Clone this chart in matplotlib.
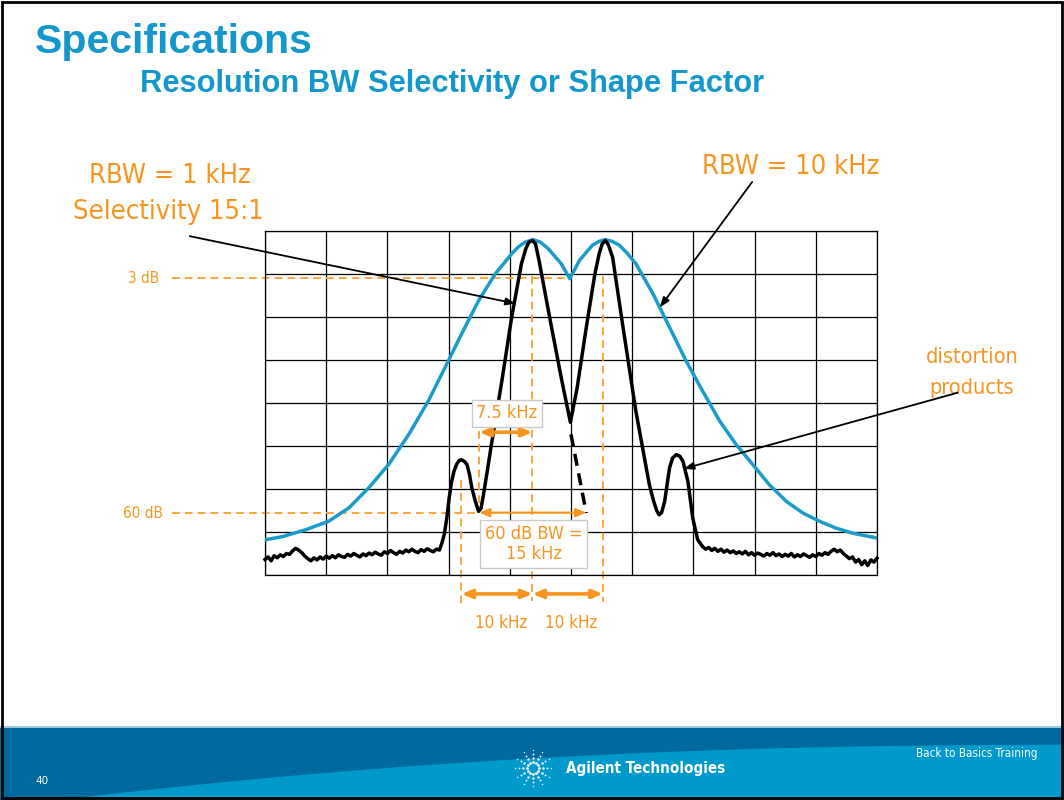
import numpy as np
import matplotlib
matplotlib.use('Agg')
import matplotlib.pyplot as plt
from matplotlib.patches import Rectangle, Polygon

# grid units: x 0..10 divisions, y 0..8 divisions (0 = bottom of screen)
# RBW = 10 kHz trace
blue_x = [0.00, 0.28, 0.66, 1.04, 1.37, 1.69, 2.02, 2.35, 2.67, 2.94, 3.21, 3.49, 3.76, 4.03,
          4.14, 4.25, 4.38, 4.50, 4.62, 4.84, 4.98, 5.14, 5.35, 5.46, 5.56, 5.67, 5.79, 5.92,
          6.06, 6.34, 6.61, 6.88, 7.15, 7.43, 7.70, 7.97, 8.24, 8.52, 8.79, 9.06, 9.33, 9.61,
          10.0]
blue_y = [0.82, 0.89, 1.05, 1.25, 1.56, 2.02, 2.57, 3.27, 4.05, 4.82, 5.60, 6.38, 7.00, 7.47,
          7.63, 7.74, 7.80, 7.74, 7.60, 7.24, 6.89, 7.32, 7.67, 7.76, 7.80, 7.76, 7.67, 7.48,
          7.24, 6.54, 5.76, 4.98, 4.28, 3.58, 3.03, 2.57, 2.10, 1.71, 1.44, 1.25, 1.09, 0.97,
          0.86]

# RBW = 1 kHz trace: noise floor left/right and the signal part in between
noise_left = [0.36, 0.42, 0.33, 0.45, 0.40, 0.47, 0.43, 0.50, 0.48, 0.56, 0.62, 0.58, 0.52, 0.44,
              0.38, 0.33, 0.40, 0.35, 0.42, 0.37, 0.44, 0.39, 0.45, 0.40, 0.47, 0.43, 0.41, 0.48,
              0.44, 0.50, 0.46, 0.42, 0.49, 0.45, 0.51, 0.47, 0.53, 0.49, 0.46, 0.54, 0.50, 0.57,
              0.52, 0.48, 0.55, 0.51, 0.58, 0.54, 0.60, 0.55, 0.52, 0.59, 0.55, 0.61, 0.57, 0.54,
              0.60, 0.58]
noise_right = [0.66, 0.60, 0.64, 0.57, 0.62, 0.55, 0.60, 0.53, 0.58, 0.52, 0.56, 0.50, 0.54, 0.49,
               0.55, 0.47, 0.52, 0.46, 0.51, 0.48, 0.44, 0.50, 0.46, 0.52, 0.45, 0.49, 0.43, 0.48,
               0.44, 0.50, 0.42, 0.47, 0.43, 0.49, 0.45, 0.41, 0.47, 0.43, 0.50, 0.46, 0.52, 0.48,
               0.55, 0.60, 0.54, 0.58, 0.50, 0.44, 0.38, 0.42, 0.30, 0.36, 0.24, 0.33, 0.22, 0.35,
               0.30, 0.39]
sig_x = [2.89, 2.93, 2.97, 3.01, 3.05, 3.09, 3.13, 3.17, 3.21, 3.26, 3.30, 3.34, 3.38, 3.44,
         3.49, 3.53, 3.57, 3.63, 3.70, 3.87, 4.03, 4.19, 4.26, 4.31, 4.37, 4.42, 4.48, 4.63,
         4.84, 4.99, 5.10, 5.25, 5.39, 5.46, 5.51, 5.56, 5.61, 5.68, 5.85, 6.06, 6.28, 6.35,
         6.40, 6.44, 6.48, 6.53, 6.57, 6.61, 6.66, 6.72, 6.78, 6.83, 6.91, 6.99, 7.07]
sig_y = [0.74, 0.95, 1.32, 1.80, 2.18, 2.42, 2.57, 2.66, 2.68, 2.64, 2.57, 2.35, 2.02, 1.70,
         1.48, 1.55, 1.87, 2.40, 3.04, 4.51, 5.99, 7.24, 7.58, 7.74, 7.78, 7.70, 7.30, 6.15,
         4.59, 3.55, 4.35, 5.76, 7.00, 7.47, 7.70, 7.78, 7.68, 7.39, 5.76, 3.81, 2.10, 1.72,
         1.50, 1.40, 1.45, 1.71, 2.10, 2.49, 2.72, 2.80, 2.76, 2.64, 2.18, 1.32, 0.82]
# extrapolated skirt of the first response (dashed)
skirt_x = [5.00, 5.25]
skirt_y = [3.27, 1.44]

ORANGE = '#F7941E'
ORANGE_L = '#FBA43A'
BLUE = '#1A9BC9'
NARROW = ['DejaVu Sans']

fig = plt.figure(figsize=(10.64, 8.0), dpi=100)

# slide footer
fig.add_artist(Rectangle((0, 0), 1, 0.0913, transform=fig.transFigure, fc='#006A9E', ec='none', zorder=0))
fig.add_artist(Rectangle((0, 0.0895), 1, 0.003, transform=fig.transFigure, fc='#9CC6DC', ec='none', zorder=0))
t = np.linspace(0, 1, 60)
cx = 0.057 + (1 - 0.057) * t
cy = 0.069 * (1 - (1 - t) ** 2.2)
fig.add_artist(Polygon(np.column_stack([np.r_[cx, 1.0], np.r_[cy, 0.0]]), closed=True,
                       transform=fig.transFigure, fc='#0099CC', ec='none', zorder=0))
# starburst logo
lx, ly = 533 / 1064, 1 - 768 / 800
for k in range(12):
    a = np.pi * k / 6
    for r, s in [(6, 4), (10, 3), (14, 1.8), (18, 1)]:
        fig.add_artist(plt.Line2D([lx + r * np.cos(a) / 1064], [ly + r * np.sin(a) / 800],
                                  marker='o', ms=s ** 0.5 * 1.0, color='white', mec='none',
                                  transform=fig.transFigure))
fig.text(566 / 1064, ly, 'Agilent Technologies', color='white', fontsize=10.9, fontweight='bold',
         family=NARROW, stretch='condensed', ha='left', va='center')
fig.text(1037 / 1064, 1 - 754 / 800, 'Back to Basics Training', color='white', fontsize=8.4,
         family=NARROW, stretch='condensed', ha='right', va='center')
fig.text(35 / 1064, 1 - 781 / 800, '40', color='white', fontsize=7.5, ha='left', va='center')
fig.add_artist(Rectangle((0.002, 0.002), 0.996, 0.995, transform=fig.transFigure, fc='none',
                         ec='black', lw=2, zorder=10))

# titles
fig.text(35 / 1064, 1 - 42 / 800, 'Specifications', color='#1497CC', fontsize=29.5,
         fontweight='bold', family='Liberation Sans', ha='left', va='center')
fig.text(140 / 1064, 1 - 84 / 800, 'Resolution BW Selectivity or Shape Factor', color='#1497CC',
         fontsize=22.2, fontweight='bold', family='Liberation Sans', ha='left', va='center')

# analyzer screen
ax = fig.add_axes([265 / 1064, 225 / 800, 612 / 1064, 344 / 800])
ax.set_xlim(0, 10)
ax.set_ylim(0, 8)
ax.set_xticks(range(11))
ax.set_yticks(range(9))
ax.tick_params(length=0, labelbottom=False, labelleft=False)
ax.grid(True, color='black', lw=0.9)
for s in ax.spines.values():
    s.set_color('black')
    s.set_linewidth(0.9)

ax.plot(blue_x, blue_y, color=BLUE, lw=2.5, zorder=3, solid_joinstyle='round')
xl = np.linspace(0, 2.85, len(noise_left))
xr = np.linspace(7.15, 10, len(noise_right))
black_x = np.r_[xl, sig_x, xr]
black_y = np.r_[noise_left, sig_y, noise_right]
ax.plot(black_x, black_y, color='black', lw=2.5, zorder=4, clip_on=False, solid_joinstyle='round')
ax.plot(skirt_x, skirt_y, color='black', lw=2.5, ls=(0, (3.5, 2.2)), zorder=4)

# orange measurement guides
dash = (0, (4, 2.6))
ax.plot([-1.52, 4.97], [6.90, 6.90], color=ORANGE_L, lw=1.4, ls=dash, clip_on=False, zorder=2)
ax.plot([-1.52, 3.48], [1.44, 1.44], color=ORANGE_L, lw=1.4, ls=dash, clip_on=False, zorder=2)
for x0, y0, y1 in [(3.21, 2.20, -0.68), (4.37, 6.95, -0.60), (5.52, 6.95, -0.62), (3.50, 3.35, 1.44)]:
    ax.plot([x0, x0], [y0, y1], color=ORANGE_L, lw=1.4, ls=dash, clip_on=False, zorder=2)
ax.text(-1.72, 6.90, '3 dB', color=ORANGE, fontsize=11, family=NARROW, stretch='condensed',
        ha='right', va='center')
ax.text(-1.67, 1.44, '60 dB', color=ORANGE, fontsize=11, family=NARROW, stretch='condensed',
        ha='right', va='center')

for (xa, xb, yy, lw) in [(3.50, 4.37, 3.32, 2.6), (3.50, 5.25, 1.45, 1.6),
                         (3.21, 4.37, -0.44, 2.6), (4.37, 5.52, -0.44, 2.6)]:
    ax.annotate('', xy=(xb, yy), xytext=(xa, yy), annotation_clip=False,
                arrowprops=dict(arrowstyle='<|-|>,head_length=0.6,head_width=0.25', color=ORANGE,
                                lw=lw, shrinkA=0, shrinkB=0), zorder=5)

box = dict(boxstyle='square,pad=0.25', fc='white', ec='#C8C8C8', lw=1)
ax.text(3.95, 3.76, '7.5 kHz', color=ORANGE, fontsize=13, family=NARROW, stretch='condensed',
        ha='center', va='center', bbox=box, zorder=6)
ax.text(4.39, 0.72, '60 dB BW =\n15 kHz', color=ORANGE, fontsize=13, family=NARROW,
        stretch='condensed', ha='center', va='center', linespacing=1.2, bbox=box, zorder=6)
ax.text(3.86, -1.12, '10 kHz', color=ORANGE, fontsize=12.2, family=NARROW, stretch='condensed',
        ha='center', va='center')
ax.text(5.00, -1.12, '10 kHz', color=ORANGE, fontsize=12.2, family=NARROW, stretch='condensed',
        ha='center', va='center')

# callouts
big = dict(color=ORANGE, family=NARROW, stretch='condensed', ha='center', va='center')
ax.text(-1.55, 9.28, 'RBW = 1 kHz', fontsize=19.6, **big)
ax.text(-1.58, 8.44, 'Selectivity 15:1', fontsize=19.6, **big)
ax.text(8.59, 9.49, 'RBW = 10 kHz', fontsize=19.6, **big)
ax.text(11.55, 5.06, 'distortion', fontsize=15.5, **big)
ax.text(11.55, 4.36, 'products', fontsize=15.5, **big)
for (xs, ys, xe, ye) in [(-1.23, 7.88, 4.10, 6.31), (7.96, 9.14, 6.45, 6.22), (11.32, 4.24, 6.84, 2.47)]:
    ax.annotate('', xy=(xe, ye), xytext=(xs, ys), annotation_clip=False,
                arrowprops=dict(arrowstyle='-|>,head_length=0.6,head_width=0.22', color='black',
                                lw=1.3, shrinkA=0, shrinkB=0), zorder=7)

fig.savefig('out.png', dpi=100)
